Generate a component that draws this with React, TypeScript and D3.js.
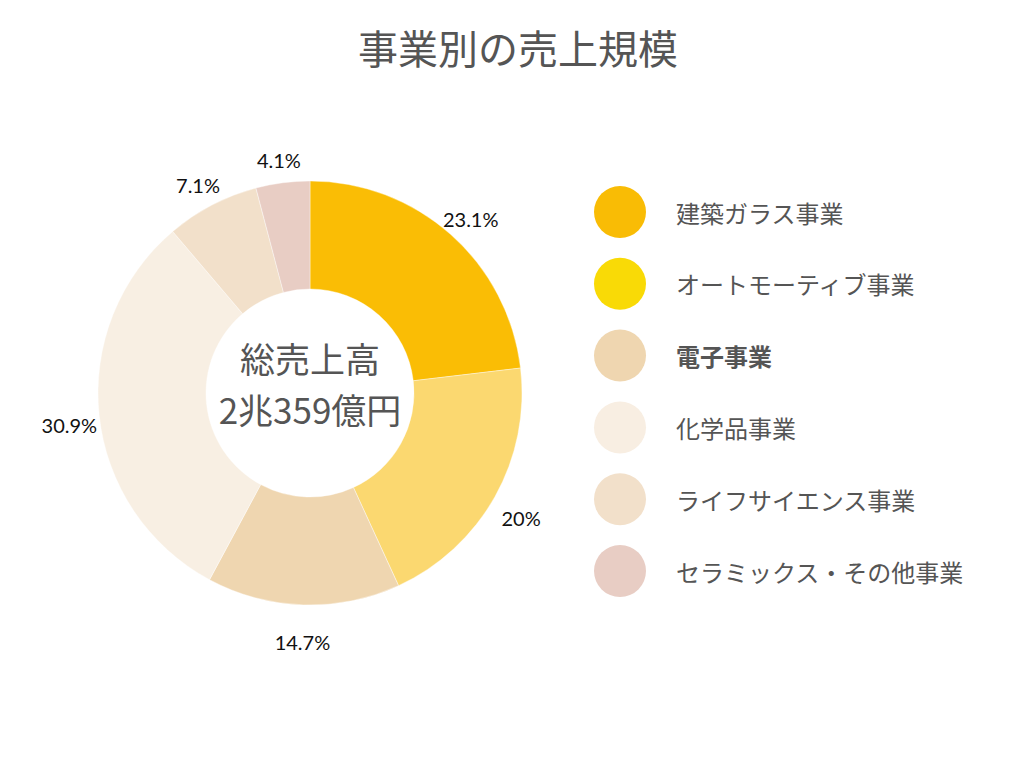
import React from "react";
import * as d3 from "d3";

const categories = [
  "建築ガラス事業",
  "オートモーティブ事業",
  "電子事業",
  "化学品事業",
  "ライフサイエンス事業",
  "セラミックス・その他事業",
];
const values = [23.1, 20, 14.7, 30.9, 7.1, 4.1];
const percentLabels = ["23.1%", "20%", "14.7%", "30.9%", "7.1%", "4.1%"];
const sliceColors = ["#FABD05", "#FBD870", "#EFD6B0", "#F8EFE3", "#F2E0CA", "#E8CDC4"];
const legendColors = ["#F9BC05", "#F9DA06", "#EFD6B0", "#F8EEE2", "#F2E0CA", "#E8CDC4"];
const boldLegend = [false, false, true, false, false, false];
const title = "事業別の売上規模";
const centerLines = ["総売上高", "2兆359億円"];

const W = 1024;
const H = 768;
const cx = 310;
const cy = 393;
const outerR = 212;
const innerR = 104;
const labelR = 242;

export default function App() {
  const pie = d3.pie<number>().sort(null).value((d) => d);
  const arcs = pie(values);
  const arcGen = d3.arc<d3.PieArcDatum<number>>().innerRadius(innerR).outerRadius(outerR);
  const labelArc = d3.arc<d3.PieArcDatum<number>>().innerRadius(labelR).outerRadius(labelR);

  const legendY = d3.scalePoint<number>().domain(d3.range(categories.length)).range([212, 571]);

  const cjk = "'Noto Sans CJK JP', 'Noto Sans', sans-serif";

  return (
    <svg
      width={W}
      height={H}
      style={{ position: "absolute", left: 0, top: 0, background: "#fff" }}
    >
      <text
        x={518}
        y={47}
        textAnchor="middle"
        dominantBaseline="central"
        fontFamily={cjk}
        fontSize={40}
        fill="#555"
      >
        {title}
      </text>
      <g transform={`translate(${cx},${cy})`}>
        {arcs.map((a, i) => (
          <path key={i} d={arcGen(a) || ""} fill={sliceColors[i]} stroke="#fff" strokeWidth={0.4} />
        ))}
        {arcs.map((a, i) => {
          const [lx, ly] = labelArc.centroid(a);
          return (
            <text
              key={"l" + i}
              x={lx}
              y={ly + 7}
              textAnchor="middle"
              dominantBaseline="central"
              fontFamily="Lato, 'Noto Sans', sans-serif"
              fontSize={20}
              fill="#111"
            >
              {percentLabels[i]}
            </text>
          );
        })}
        {centerLines.map((t, i) => (
          <text
            key={"c" + i}
            x={0}
            y={-36 + i * 51}
            textAnchor="middle"
            dominantBaseline="central"
            fontFamily={cjk}
            fontSize={35}
            fill="#555"
          >
            {t}
          </text>
        ))}
      </g>
      {categories.map((c, i) => (
        <g key={"g" + i} transform={`translate(620,${legendY(i)})`}>
          <circle r={26} fill={legendColors[i]} />
          <text
            x={56}
            y={0}
            dominantBaseline="central"
            fontFamily={cjk}
            fontSize={24}
            fontWeight={boldLegend[i] ? 700 : 400}
            fill="#555"
          >
            {c}
          </text>
        </g>
      ))}
    </svg>
  );
}
